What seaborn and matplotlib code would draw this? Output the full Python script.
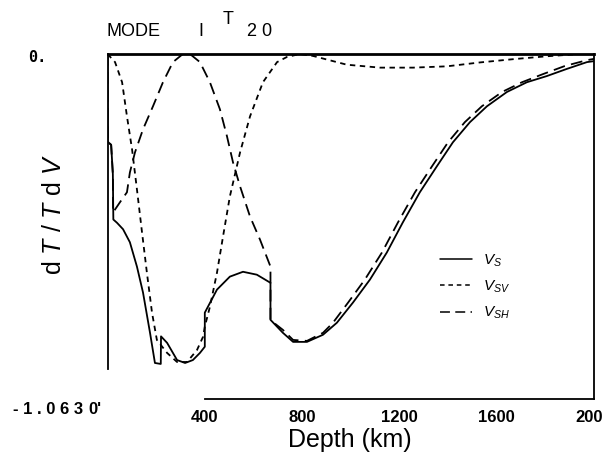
import numpy as np
import matplotlib
matplotlib.use('Agg')
import matplotlib.pyplot as plt
import pandas as pd
import seaborn as sns

# depth (km) and dT/TdV
depth_vs = [0, 1, 15, 22, 24, 39, 64, 92, 121, 146, 175, 195, 219, 220, 245, 286, 319, 351, 380,
            400, 400, 450, 503, 557, 614, 670, 670, 721, 763, 820, 886, 943, 1009, 1079, 1148,
            1214, 1284, 1354, 1420, 1490, 1560, 1642, 1724, 1806, 1888, 1971, 2000]
kern_vs = [0, -0.27, -0.28, -0.37, -0.51, -0.52, -0.54, -0.58, -0.655, -0.735, -0.86, -0.952,
           -0.955, -0.87, -0.89, -0.943, -0.952, -0.943, -0.921,
           -0.902, -0.797, -0.726, -0.686, -0.671, -0.68, -0.705, -0.819, -0.859, -0.887, -0.887,
           -0.865, -0.828, -0.766, -0.695, -0.612, -0.519, -0.426, -0.346, -0.272, -0.21, -0.161,
           -0.117, -0.087, -0.068, -0.046, -0.025, -0.022]

depth_sv = [0, 31, 60, 80, 101, 121, 142, 162, 183, 203, 245, 286, 327, 368, 393, 400, 421, 450,
            475, 503, 545, 586, 639, 697, 738, 791, 845, 984, 1120, 1256, 1395, 1531, 1667, 1806,
            1942, 2000]
kern_sv = [0, -0.025, -0.087, -0.192, -0.294, -0.417, -0.55, -0.674, -0.797, -0.881, -0.921,
           -0.949, -0.949, -0.912, -0.871, -0.84, -0.779, -0.674, -0.562, -0.439, -0.303, -0.192,
           -0.087, -0.025, -0.009, 0, -0.006, -0.033, -0.042, -0.042, -0.038, -0.026, -0.016, -0.007,
           0, 0]

depth_sh = [0, 1, 15, 22, 23, 51, 80, 92, 113, 146, 187, 228, 269, 310, 339, 380, 421, 462, 491,
            516, 545, 586, 627, 670, 670, 721, 763, 820, 886, 927, 989, 1058, 1128, 1194, 1264,
            1334, 1400, 1469, 1539, 1622, 1704, 1790, 1880, 1971, 2000]
kern_sh = [0, -0.27, -0.28, -0.37, -0.488, -0.457, -0.426, -0.365, -0.303, -0.232, -0.161,
           -0.087, -0.025, 0, 0, -0.025, -0.087, -0.17, -0.253, -0.334, -0.408, -0.501, -0.572,
           -0.655, -0.82, -0.85, -0.881, -0.884, -0.859, -0.828, -0.766, -0.695, -0.612, -0.519,
           -0.426, -0.346, -0.272, -0.21, -0.161, -0.117, -0.087, -0.062, -0.037, -0.019, -0.015]

xticks = [400, 800, 1200, 1600, 2000]

sns.set_style('white')
plt.rcParams['font.family'] = ['Liberation Sans', 'DejaVu Sans']
plt.rcParams['mathtext.fontset'] = 'custom'
plt.rcParams['mathtext.it'] = 'Liberation Sans:italic'
plt.rcParams['mathtext.rm'] = 'Liberation Sans'
plt.rcParams['text.color'] = 'black'

fig = plt.figure(figsize=(6.02, 4.66), dpi=100)
W, H = 602.0, 466.0
ax = fig.add_axes([107.5 / W, 1 - 399 / H, 486.5 / W, 345 / H])

vs = pd.DataFrame({'depth': depth_vs, 'k': kern_vs})
sv = pd.DataFrame({'depth': depth_sv, 'k': kern_sv})
sh = pd.DataFrame({'depth': depth_sh, 'k': kern_sh})

sns.lineplot(data=vs, x='depth', y='k', ax=ax, color='black', lw=1.3,
             estimator=None, sort=False, label=r'$V_S$')
sns.lineplot(data=sv, x='depth', y='k', ax=ax, color='black', lw=1.3,
             estimator=None, sort=False, label=r'$V_{SV}$')
sns.lineplot(data=sh, x='depth', y='k', ax=ax, color='black', lw=1.3,
             estimator=None, sort=False, label=r'$V_{SH}$')
ax.lines[1].set_dashes((3, 2.5))
ax.lines[2].set_dashes((6.5, 3.5))

ax.set_xlim(0, 2000)
ax.set_ylim(-1.063, 0)
ax.set_xticks(xticks)
ax.set_xticklabels([str(t) for t in xticks], fontsize=12, fontweight='bold')
ax.set_yticks([])
ax.tick_params(axis='x', direction='in', length=6, width=1.2, pad=8,
               colors='black', labelcolor='black')
ax.set_xlabel('')
ax.set_ylabel('')

for s in ax.spines.values():
    s.set_color('black')
    s.set_linewidth(1.3)
ax.spines['top'].set_linewidth(2.0)
ax.spines['left'].set_bounds(-0.97, 0)
ax.spines['bottom'].set_bounds(400, 2000)

leg = ax.legend(loc='upper left', bbox_to_anchor=(0.683, 0.425), frameon=False,
                fontsize=11, handlelength=2.1, handletextpad=0.7, labelspacing=0.65,
                borderpad=0, borderaxespad=0)
for h in leg.get_lines():
    h.set_linewidth(1.1)
for t in leg.get_texts():
    t.set_color('black')

# axis value labels and captions placed as in the scan
fig.text(28 / W, 1 - 58 / H, '0.', fontsize=11, family='DejaVu Sans Mono',
         fontweight='bold', va='center')
fig.text(13 / W, 1 - 409 / H, '- 1 . 0 6 3', fontsize=12, fontweight='bold', va='center')
fig.text(88 / W, 1 - 409 / H, "0'", fontsize=12, fontweight='bold', va='center')

fig.text(107 / W, 1 - 31 / H, 'MODE', fontsize=13, va='center')
fig.text(198 / W, 1 - 31 / H, 'I', fontsize=13, va='center')
fig.text(223 / W, 1 - 19 / H, 'T', fontsize=13, va='center')
fig.text(247 / W, 1 - 31 / H, '2 0', fontsize=13, va='center')

fig.text(350 / W, 1 - 440 / H, 'Depth (km)', fontsize=18, ha='center', va='center')
fig.text(54 / W, 1 - 215 / H, r'd $T$ / $T$ d $V$', fontsize=18, rotation=90,
         ha='center', va='center')

fig.savefig('out.png', dpi=100)
